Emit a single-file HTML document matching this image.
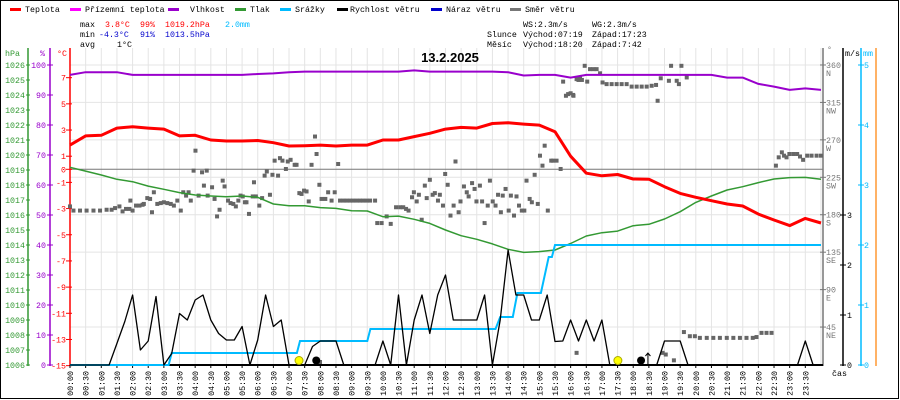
<!DOCTYPE html>
<html><head><meta charset="utf-8"><style>
html,body{margin:0;padding:0;background:#fff}
svg{display:block;font-family:"Liberation Mono",monospace;font-size:8.3px}
</style></head><body>
<svg id="chart" width="900" height="400" viewBox="0 0 900 400">
<rect x="0.5" y="0.5" width="898" height="398" fill="#fff" stroke="#000"/>
<g>
 <g><rect x="10" y="8" width="11" height="3" fill="#f00"/><text x="25" y="12">Teplota</text></g>
 <g><rect x="70" y="8" width="11" height="3" fill="#f0f"/><text x="85" y="12">Přízemní teplota</text></g>
 <g><rect x="168" y="8" width="11" height="3" fill="#90c"/><text x="190" y="12">Vlhkost</text></g>
 <g><rect x="235" y="8" width="11" height="3" fill="#393"/><text x="250" y="12">Tlak</text></g>
 <g><rect x="280" y="8" width="11" height="3" fill="#0bf"/><text x="295" y="12">Srážky</text></g>
 <g><rect x="337" y="8" width="11" height="3" fill="#000"/><text x="350" y="12">Rychlost větru</text></g>
 <g><rect x="431" y="8" width="11" height="3" fill="#00c"/><text x="446" y="12">Náraz větru</text></g>
 <g><rect x="510" y="8" width="11" height="3" fill="#777"/><text x="525" y="12">Směr větru</text></g>
</g>
<g>
 <text x="80" y="27">max</text><text x="105" y="27" fill="#f00">3.8°C</text><text x="140" y="27" fill="#f00">99%</text><text x="165" y="27" fill="#f00">1019.2hPa</text><text x="225" y="27" fill="#0bf">2.0mm</text>
 <text x="80" y="37">min</text><text x="99" y="37" fill="#00c">-4.3°C</text><text x="140" y="37" fill="#00c">91%</text><text x="165" y="37" fill="#00c">1013.5hPa</text>
 <text x="80" y="47">avg</text><text x="117" y="47">1°C</text>
 <text x="523" y="27">WS:2.3m/s</text><text x="592" y="27">WG:2.3m/s</text>
 <text x="487" y="37">Slunce</text><text x="523" y="37">Východ:07:19</text><text x="592" y="37">Západ:17:23</text>
 <text x="487" y="47">Měsíc</text><text x="523" y="47">Východ:18:20</text><text x="592" y="47">Západ:7:42</text>
</g>
<g id="grid"></g>
<text x="450" y="62" text-anchor="middle" font-family="Liberation Sans, sans-serif" font-weight="bold" font-size="13">13.2.2025</text>
<g id="axes"></g>
<g id="series"></g>
</svg>
<script>
// ---- data ----
const tempVals = [1.85,2.55,2.6,3.15,3.25,3.15,3.07,2.55,2.6,2.24,2.16,2.16,2.2,2.03,1.78,1.8,1.85,
 1.78,1.85,1.85,2.24,2.24,2.5,2.75,3.07,3.2,3.15,3.5,3.55,3.45,3.38,2.87,1.0,
 -0.3,-0.5,-0.4,-0.74,-0.76,-1.33,-1.84,-2.14,-2.4,-2.65,-2.8,-3.42,-3.87,-4.3,-3.75,-4.1];
const humVals = [96.7,97.6,97.6,97.6,96.7,96.7,96.7,96.7,96.7,96.7,96.7,96.7,97.0,97.2,97.6,97.8,97.8,
 97.8,97.8,97.8,97.8,97.8,98.2,97.8,97.8,97.8,97.8,97.8,97.6,96.5,96.7,96.7,95.8,
 96.7,96.7,96.7,96.7,96.7,96.7,96.7,96.7,96.7,95.8,95.8,93.7,92.8,91.7,92.2,91.7];
const pressVals = [1019.18,1018.93,1018.67,1018.38,1018.22,1017.93,1017.71,1017.49,1017.33,1017.27,1017.22,1017.27,1017.18,1016.73,1016.62,1016.62,1016.49,
 1016.44,1016.29,1016.27,1015.89,1015.93,1015.71,1015.44,1015.0,1014.62,1014.38,1014.07,1013.71,1013.51,1013.56,1013.67,1014.1,
 1014.6,1014.82,1014.93,1015.29,1015.38,1015.73,1016.22,1016.84,1017.27,1017.67,1017.89,1018.16,1018.4,1018.49,1018.51,1018.38];
const windVals = [0,0,0,0,0,0,0.43,0.87,1.4,0.3,0.48,1.37,0,0.23,1.03,0.9,1.3,1.4,0.9,0.63,0.5,0.5,0.77,0,0.5,1.4,0.77,0.9,0,0,0,0.37,
 0.48,0.48,0.48,0,0,0,0,0,0.48,0,1.4,0,0.9,1.4,0.63,1.4,1.8,0.9,0.9,0.9,0.9,1.4,0,0.9,2.3,1.4,1.4,0.9,0.9,1.4,0.47,0.48,
 0.9,0.48,0.9,0.48,0.9,0,0,0,0,0,0,0,0.48,0.48,0.48,0,0,0,0,0,0,0,0,0,0,0,0,0,0,0,0.48,0,0];
const rainTimes = [0,3.15,3.25,7.25,7.35,9.5,9.6,13.6,13.75,14.15,14.3,15.05,15.3,15.4,15.5,24];
const rainVals  = [0,0,0.2,0.2,0.4,0.4,0.6,0.6,0.8,0.8,1.2,1.2,1.8,1.8,2.0,2.0];
const dirTimes = [0,.11,.32,.53,.75,.96,1.17,1.33,1.44,1.58,1.68,1.79,1.9,1.93,2.0,2.11,2.22,2.32,2.36,2.47,2.56,2.62,2.68,2.79,2.9,3.0,3.11,3.22,3.32,3.43,3.54,3.62,3.71,3.79,3.86,3.95,4.01,4.11,4.22,4.28,4.37,4.4,4.54,4.62,4.7,4.78,4.88,4.94,5.05,5.13,5.22,5.3,5.38,5.45,5.52,5.59,5.64,5.72,5.84,5.88,5.94,6.05,6.14,6.22,6.29,6.39,6.47,6.54,6.65,6.71,6.79,6.9,6.96,7.05,7.18,7.24,7.33,7.4,7.48,7.56,7.63,7.72,7.83,7.88,7.97,8.04,8.16,8.25,
 7.99,8.36,8.46,8.57,8.63,8.74,8.84,8.95,9.05,9.16,9.27,9.37,9.48,9.59,9.75,9.82,9.96,10.12,10.25,10.42,10.55,10.65,10.74,10.82,10.93,10.99,11.08,11.15,11.24,11.34,11.4,11.5,11.59,11.66,11.76,11.82,11.92,11.99,12.07,12.16,12.26,12.32,12.42,12.48,12.59,12.68,12.74,12.85,12.93,12.99,13.1,13.17,13.25,13.35,13.42,13.51,13.6,13.68,13.77,13.83,13.92,14.02,14.09,14.19,14.27,14.35,14.44,14.52,14.59,14.69,14.76,14.85,14.95,15.02,15.1,15.17,15.27,15.38,15.44,15.55,15.68,15.76,15.85,15.92,16.0,16.08,16.25,
 16.09,16.19,16.3,16.36,16.45,16.53,16.62,16.73,16.83,16.94,17.02,17.15,17.31,17.47,17.63,17.79,17.95,18.11,18.27,18.43,18.59,18.73,18.78,18.88,19.14,19.21,19.39,19.46,19.54,19.71,
 22.56,22.65,22.75,22.82,22.9,22.99,23.12,23.24,23.33,23.43,23.56,23.7,23.86,24.0,
 16.19,18.94,19.04,19.3,19.62,19.81,19.97,20.13,20.35,20.56,20.77,20.99,21.2,21.41,21.62,21.82,21.94,22.1,22.26,22.42];
const dirVals = [190,185,185,185,185,185,186,186,188,190,184,187,187,197,185,191,191,192,193,200,199,183,207,193,194,195,194,193,191,197,185,207,203,207,197,233,257,203,231,215,233,203,213,199,178,186,221,214,197,194,193,190,197,203,202,195,195,181,202,219,202,191,200,227,232,204,228,245,227,248,245,235,244,246,240,240,206,205,209,208,196,240,274,253,216,199,199,207,
 3,197,207,241,197,197,197,197,197,197,197,197,197,197,197,170,170,178,169,189,189,189,187,185,201,207,196,204,174,215,200,222,204,206,197,204,191,229,216,179,191,244,183,196,214,207,202,218,211,196,215,196,170,191,221,196,191,204,183,203,211,185,203,179,202,191,185,185,221,199,195,228,193,251,239,263,185,245,245,245,235,340,323,325,326,324,342,
 323,343,344,342,359,340,355,355,355,350,339,337,337,337,337,337,334,334,334,334,335,336,317,344,341,359,341,337,359,345,
 239,249,255,251,249,253,253,253,250,246,251,251,251,251,
 14,14,12,5,39,34,34,32,32,32,32,32,32,32,32,32,33,38,38,38];
const timeLabels = [];
for (let h = 0; h < 24; h++) { const hh = String(h).padStart(2,'0'); timeLabels.push(hh+':00', hh+':30'); }
const hpaTicks = [1026,1025,1024,1023,1022,1021,1020,1019,1018,1017,1016,1015,1014,1013,1012,1011,1010,1009,1008,1007,1006];
const humTicks = [100,90,80,70,60,50,40,30,20,10,0];
const tempTicks = [7,5,3,1,0,-1,-3,-5,-7,-9,-11,-13,-15];
const dirTicks = [360,315,270,225,180,135,90,45];
const dirNames = ['N','NW','W','SW','S','SE','E','NE'];
const windTicks = [0,1,2,3];
const rainTicks = [0,1,2,3,4,5];

// ---- scales ----
const X0 = 70, XPH = 31.29;
const xT = t => X0 + t * XPH;
const yTemp = v => 169.3 - v * 13.09;
const yHum = v => 365 - v * 3;
const yHpa = v => 65 + (1026 - v) * 15;
const yDir = v => 364.5 - v * 0.832;
const yWind = v => 365 - v * 50;
const yRain = v => 365 - v * 60;
const NS = 'http://www.w3.org/2000/svg';
function mk(tag, attrs, parent) {
  const e = document.createElementNS(NS, tag);
  for (const k in attrs) e.setAttribute(k, attrs[k]);
  parent.appendChild(e); return e;
}
const grid = document.getElementById('grid');
const axes = document.getElementById('axes');
const series = document.getElementById('series');

for (let i = 1; i <= 48; i++) {
  const l = mk('line', {x1: xT(i/2), x2: xT(i/2), y1: 48, y2: 365, stroke: '#e4e4e4'}, grid);
  
  
}
dirTicks.forEach(d => {
  const l = mk('line', {x1: 70, x2: 823, y1: yDir(d), y2: yDir(d), stroke: '#e4e4e4'}, grid);
  
  
});
const zl = mk('line', {x1: 70, x2: 823, y1: yTemp(0), y2: yTemp(0), stroke: '#777'}, grid);



function vAxis(x, color, name) {
  const l = mk('line', {x1: x, x2: x, y1: 48, y2: 366, stroke: color, 'stroke-width': 1.5}, axes);
  
  
}
vAxis(28, '#393', 'hpa-axis'); vAxis(50, '#90c', 'humidity-axis'); vAxis(70, '#f00', 'temperature-axis');
vAxis(823, '#777', 'direction-axis'); vAxis(843, '#000', 'wind-axis'); vAxis(861, '#0bf', 'rain-axis'); vAxis(876, '#f93', 'extra-axis');
function lab(x, y, s, color, anchor, name) {
  const t = mk('text', {x: x, y: y, fill: color, 'text-anchor': anchor}, axes);
  t.textContent = s;
  
  
  return t;
}
lab(5, 56, 'hPa', '#393', 'start', 'hpa-axis-title');
lab(40, 56, '%', '#90c', 'start', 'humidity-axis-title');
lab(57, 56, '°C', '#f00', 'start', 'temperature-axis-title');
lab(827, 52, '°', '#777', 'start', 'direction-axis-title');
lab(845, 56, 'm/s', '#000', 'start', 'wind-axis-title');
lab(863, 56, 'mm', '#0bf', 'start', 'rain-axis-title');
lab(832, 376, 'čas', '#000', 'start', 'time-axis-title');
hpaTicks.forEach(v => {
  mk('line', {x1: 26, x2: 30, y1: yHpa(v), y2: yHpa(v), stroke: '#393'}, axes);
  lab(25, yHpa(v) + 3, String(v), '#393', 'end', 'hpa-tick-label');
});
humTicks.forEach(v => {
  mk('line', {x1: 47, x2: 53, y1: yHum(v), y2: yHum(v), stroke: '#90c'}, axes);
  lab(46, yHum(v) + 3, String(v), '#90c', 'end', 'humidity-tick-label');
});
tempTicks.forEach(v => {
  mk('line', {x1: 66, x2: 72, y1: yTemp(v), y2: yTemp(v), stroke: '#f00'}, axes);
  lab(66, yTemp(v) + 3, String(v), '#f00', 'end', 'temperature-tick-label');
});
dirTicks.forEach((v, i) => {
  mk('line', {x1: 820, x2: 826, y1: yDir(v), y2: yDir(v), stroke: '#777'}, axes);
  lab(826, yDir(v) + 3, String(v), '#777', 'start', 'direction-tick-label');
  lab(826, yDir(v) + 11, dirNames[i], '#777', 'start', 'direction-name-label');
});
windTicks.forEach(v => {
  mk('line', {x1: 840, x2: 846, y1: yWind(v), y2: yWind(v), stroke: '#000'}, axes);
  lab(847, yWind(v) + 3, String(v), '#000', 'start', 'wind-tick-label');
});
rainTicks.forEach(v => {
  mk('line', {x1: 858, x2: 864, y1: yRain(v), y2: yRain(v), stroke: '#0bf'}, axes);
  lab(864, yRain(v) + 3, String(v), '#0bf', 'start', 'rain-tick-label');
});
timeLabels.forEach((s, i) => {
  const x = xT(i/2);
  mk('line', {x1: x, x2: x, y1: 365, y2: 368, stroke: '#000'}, axes);
  const t = mk('text', {x: 0, y: 0, 'text-anchor': 'end', transform: `translate(${x+3},371) rotate(-90)`}, axes);
  t.textContent = s;
  
  
});
const xa = mk('line', {x1: 70, x2: 823, y1: 365, y2: 365, stroke: '#000', 'stroke-width': 2}, axes);



function poly(vals, step, yf, color, w, name) {
  const pts = vals.map((v, i) => xT(i*step).toFixed(1) + ',' + yf(v).toFixed(1)).join(' ');
  const p = mk('polyline', {points: pts, fill: 'none', stroke: color, 'stroke-width': w, 'stroke-linejoin': 'round'}, series);
  
  
}
dirVals.forEach((d, i) => {
  const r = mk('rect', {x: xT(dirTimes[i]) - 2, y: yDir(d) - 2, width: 4, height: 4, fill: '#666'}, series);
  
  
});
poly(humVals, 0.5, yHum, '#90c', 2, 'humidity-line');
poly(pressVals, 0.5, yHpa, '#393', 1.5, 'pressure-line');
poly(tempVals, 0.5, yTemp, '#f00', 3, 'temperature-line');
const rp = mk('polyline', {points: rainTimes.map((t, i) => xT(t).toFixed(1) + ',' + yRain(rainVals[i]).toFixed(1)).join(' '), fill: 'none', stroke: '#0bf', 'stroke-width': 2}, series);


poly(windVals, 0.25, yWind, '#000', 1.3, 'wind-speed-line');

const sun1 = mk('circle', {cx: xT(7.32), cy: 360.5, r: 4, fill: '#ff0', stroke: '#aa0'}, series);


const moon1 = mk('circle', {cx: xT(7.87), cy: 360.5, r: 4, fill: '#000'}, series);


const sun2 = mk('circle', {cx: xT(17.51), cy: 360.5, r: 4, fill: '#ff0', stroke: '#aa0'}, series);


const moon2 = mk('circle', {cx: xT(18.25), cy: 360.5, r: 4, fill: '#000'}, series);


const arr = mk('path', {d: `M${xT(18.47)},364 V353 M${xT(18.47)-2.5},356 L${xT(18.47)},353 L${xT(18.47)+2.5},356`, stroke: '#000', fill: 'none'}, series);


</script>
</body></html>
